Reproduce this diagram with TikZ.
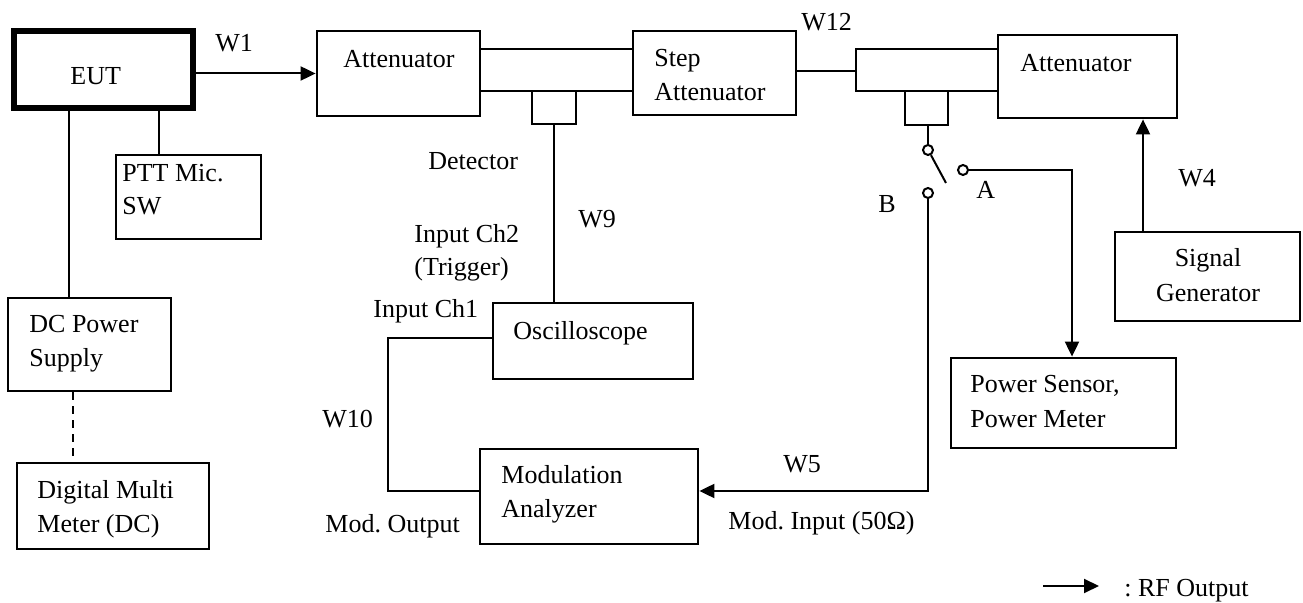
\documentclass[tikz,border=0pt]{standalone}
\usepackage{fontspec}
\setmainfont{Liberation Serif}
\usetikzlibrary{arrows.meta,fit}
\tikzset{
  box/.style={draw,rectangle,line width=1.4pt,inner sep=0pt},
  eutbox/.style={box,line width=2.6pt},
  lbl/.style={anchor=base west,inner sep=0pt},
  clbl/.style={anchor=base,inner sep=0pt},
  wire/.style={line width=1pt},
  port/.style={draw,circle,line width=1pt,minimum size=5pt,inner sep=0pt}
}
\frenchspacing
\begin{document}
\begin{tikzpicture}[x=0.5pt,y=-0.5pt,>={Triangle[length=7.5pt,width=7pt]},font=\fontsize{13pt}{17pt}\selectfont]
            \useasboundingbox (0,0) rectangle (1303,603);
            % boxes
            \node[eutbox,fit={(14,31) (193,108)}] (eut) {};
            \node[box,fit={(116,155) (261,239)}] (ptt) {};
            \node[box,fit={(8,298) (171,391)}] (dc) {};
            \node[box,fit={(17,463) (209,549)}] (dmm) {};
            \node[box,fit={(317,31) (480,116)}] (att1) {};
            \node[box,fit={(480,49) (633,91)}] (tube1) {};
            \node[box,fit={(532,91) (576,124)}] (det1) {};
            \node[box,fit={(633,31) (796,115)}] (step) {};
            \node[box,fit={(856,49) (998,91)}] (tube2) {};
            \node[box,fit={(905,91) (948,125)}] (det2) {};
            \node[box,fit={(998,35) (1177,118)}] (att2) {};
            \node[box,fit={(1115,232) (1300,321)}] (sg) {};
            \node[box,fit={(951,358) (1176,448)}] (pwr) {};
            \node[box,fit={(493,303) (693,379)}] (osc) {};
            \node[box,fit={(480,449) (698,544)}] (mod) {};
            % switch
            \node[port] (pc) at (928,150) {};
            \node[port] (pb) at (928,193) {};
            \node[port] (pa) at (963,170) {};
            \coordinate (blade) at (946,183);
            % texts
            \node[lbl] (teut) at (70,85) {EUT};
            \node[lbl] (tw1) at (215,52) {W1};
            \node[lbl] (tptt1) at (122,182) {PTT Mic.};
            \node[lbl] (tptt2) at (122,215) {SW};
            \node[lbl] (tdc1) at (29,333) {DC Power};
            \node[lbl] (tdc2) at (29,367) {Supply};
            \node[lbl] (tdmm1) at (37,499) {Digital Multi};
            \node[lbl] (tdmm2) at (37,533) {Meter (DC)};
            \node[lbl] (tatt1) at (343,68) {Attenuator};
            \node[lbl] (tdet) at (428,170) {Detector};
            \node[lbl] (tch2a) at (414,243) {Input Ch2};
            \node[lbl] (tch2b) at (414,276) {(Trigger)};
            \node[lbl] (tw9) at (578,228) {W9};
            \node[lbl] (tstep1) at (654,67) {Step};
            \node[lbl] (tstep2) at (654,101) {Attenuator};
            \node[lbl] (tw12) at (801,31) {W12};
            \node[lbl] (tatt2) at (1020,72) {Attenuator};
            \node[lbl] (tb) at (878,213) {B};
            \node[lbl] (ta) at (976,199) {A};
            \node[lbl] (tw4) at (1178,187) {W4};
            \node[clbl] (tsg1) at (1208,267) {Signal};
            \node[clbl] (tsg2) at (1208,302) {Generator};
            \node[lbl] (tch1) at (373,318) {Input Ch1};
            \node[lbl] (tosc) at (513,340) {Oscilloscope};
            \node[lbl] (tw10) at (322,428) {W10};
            \node[lbl] (tmod1) at (501,484) {Modulation};
            \node[lbl] (tmod2) at (501,518) {Analyzer};
            \node[lbl] (tmodout) at (325,533) {Mod. Output};
            \node[lbl] (tpwr1) at (970,393) {Power Sensor,};
            \node[lbl] (tpwr2) at (970,428) {Power Meter};
            \node[lbl] (tw5) at (783,473) {W5};
            \node[lbl] (tmodin) at (728,530) {Mod. Input (50Ω)};
            \node[lbl] (trf) at (1124,597) {: RF Output};
            % connections
            \draw[wire,->] (eut.east |- att1.west) -- (att1.west);
            \draw[wire] (eut.south -| 159,0) -- (ptt.north -| 159,0);
            \draw[wire] (eut.south -| 69,0) -- (dc.north -| 69,0);
            \draw[wire,dashed,dash pattern=on 4pt off 3pt] (dc.south -| 73,0) -- (dmm.north -| 73,0);
            \draw[wire] (det1.south) -- (osc.north -| det1.south);
            \draw[wire] (osc.west |- 0,338) -- (388,338) -- (388,491) -- (mod.west |- 0,491);
            \draw[wire] (step.east |- 0,71) -- (tube2.west |- 0,71);
            \draw[wire] (det2.south -| pc) -- (pc.north);
            \draw[wire] (pc.-60) -- (blade);
            \draw[wire,->] (pa.east) -- (pa.east -| 1072,0) -- (pwr.north -| 1072,0);
            \draw[wire,->] (pb.south) -- (928,491) -- (mod.east |- 0,491);
            \draw[wire,->] (sg.north -| 1143,0) -- (att2.south -| 1143,0);
            \coordinate (lg1) at (1043,586);
            \coordinate (lg2) at (1099,586);
            \draw[wire,->] (lg1) -- (lg2);
        \end{tikzpicture}
\end{document}
